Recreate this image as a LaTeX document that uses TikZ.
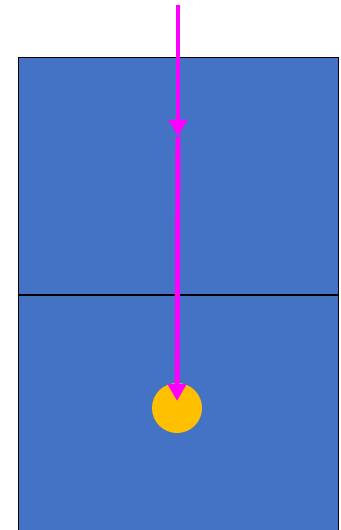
\documentclass[tikz,border=0pt]{standalone}
\usepackage{tikz}
\usepackage{xcolor}
\usetikzlibrary{arrows.meta,positioning,calc}
\definecolor{fieldblue}{HTML}{4472C4}
\definecolor{ballgold}{HTML}{FFC000}
\definecolor{pathpink}{HTML}{FF00FF}
\tikzset{
  fieldhalf/.style={
    draw=black, fill=fieldblue, line width=0.8pt, rectangle,
    inner sep=0pt, minimum width=9.6cm, minimum height=7.11cm
  },
  ballspot/.style={
    fill=ballgold, circle, inner sep=0pt, minimum size=1.5cm
  },
  movearrow/.style={
    draw=pathpink, line width=4.2pt,
    -{Triangle[length=0.51cm,width=0.54cm]}
  }
}

\begin{document}
\begin{tikzpicture}[x=0.03cm,y=-0.03cm]
  \useasboundingbox (0,0) rectangle (341,530);
  \clip (0,0) rectangle (341,530);
  % the two halves of the field
  \node[fieldhalf,anchor=north west] (upperhalf) at (18,57) {};
  \node[fieldhalf,anchor=north west] (lowerhalf) at (18,295) {};
  % ball
  \node[ballspot] (ball) at (177,408) {};
  % path of the ball
  \coordinate (start) at (178,5);
  \coordinate (halfway) at (178,136.5);
  \draw[movearrow] (start) -- (halfway);
  \draw[movearrow,shorten >=7*0.03cm] (halfway) -- (ball.center);
\end{tikzpicture}
\end{document}
